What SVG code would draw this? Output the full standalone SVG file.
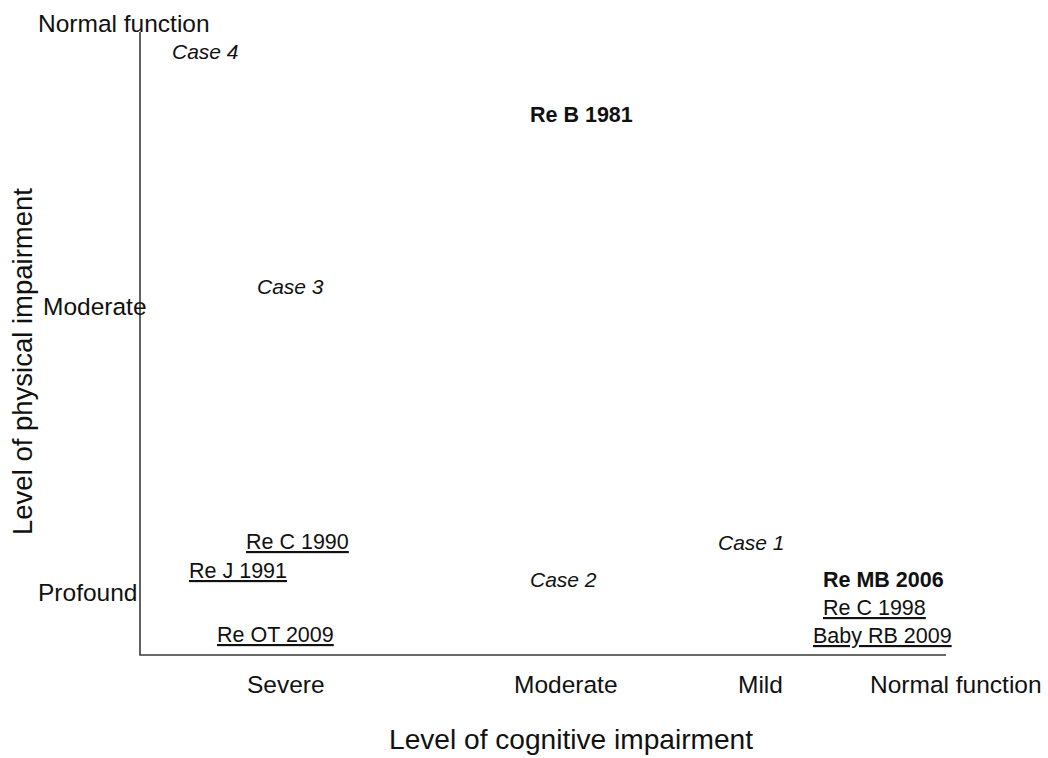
<svg xmlns="http://www.w3.org/2000/svg" width="1048" height="758" viewBox="0 0 1048 758">
  <style>
    text { font-family: "Liberation Sans", Arial, sans-serif; fill: #111; }
    .tick { font-size: 24.5px; }
    .title { font-size: 27.5px; }
    .case { font-size: 21px; font-style: italic; }
    .ruling { font-size: 21.5px; font-weight: bold; }
    .cited { font-size: 21.5px; text-decoration: underline; }
    .axis { stroke: #3a3a3a; stroke-width: 1.6; fill: none; }
  </style>

  <rect width="1048" height="758" fill="#ffffff"/>

  <!-- axes -->
  <g id="axes">
    <polyline class="axis" points="140,32 140,655 946,655"/>
  </g>

  <!-- axis titles -->
  <g id="y-title">
    <text class="title" transform="translate(32,535) rotate(-90)" textLength="347" lengthAdjust="spacingAndGlyphs">Level of physical impairment</text>
  </g>
  <g id="x-title">
    <text class="title" x="389" y="749" textLength="364" lengthAdjust="spacingAndGlyphs">Level of cognitive impairment</text>
  </g>

  <!-- vertical scale -->
  <g id="y-ticks">
    <text class="tick" x="38" y="32">Normal function</text>
    <text class="tick" x="43" y="315">Moderate</text>
    <text class="tick" x="38" y="601">Profound</text>
  </g>

  <!-- horizontal scale -->
  <g id="x-ticks">
    <text class="tick" x="247" y="693">Severe</text>
    <text class="tick" x="514" y="693">Moderate</text>
    <text class="tick" x="738" y="693">Mild</text>
    <text class="tick" x="870" y="693">Normal function</text>
  </g>

  <!-- hypothetical cases -->
  <g id="case-4"><text class="case" x="172" y="59">Case 4</text></g>
  <g id="case-3"><text class="case" x="257" y="294">Case 3</text></g>
  <g id="case-1"><text class="case" x="718" y="550">Case 1</text></g>
  <g id="case-2"><text class="case" x="530" y="587">Case 2</text></g>

  <!-- rulings where treatment was ordered -->
  <g id="re-b-1981"><text class="ruling" x="530" y="122">Re B 1981</text></g>
  <g id="re-mb-2006"><text class="ruling" x="823" y="587">Re MB 2006</text></g>

  <!-- rulings where treatment was withheld -->
  <g id="re-c-1990"><text class="cited" x="246" y="549">Re C 1990</text></g>
  <g id="re-j-1991"><text class="cited" x="189" y="578">Re J 1991</text></g>
  <g id="re-ot-2009"><text class="cited" x="217" y="642">Re OT 2009</text></g>
  <g id="re-c-1998"><text class="cited" x="823" y="615">Re C 1998</text></g>
  <g id="baby-rb-2009"><text class="cited" x="813" y="643">Baby RB 2009</text></g>
</svg>
